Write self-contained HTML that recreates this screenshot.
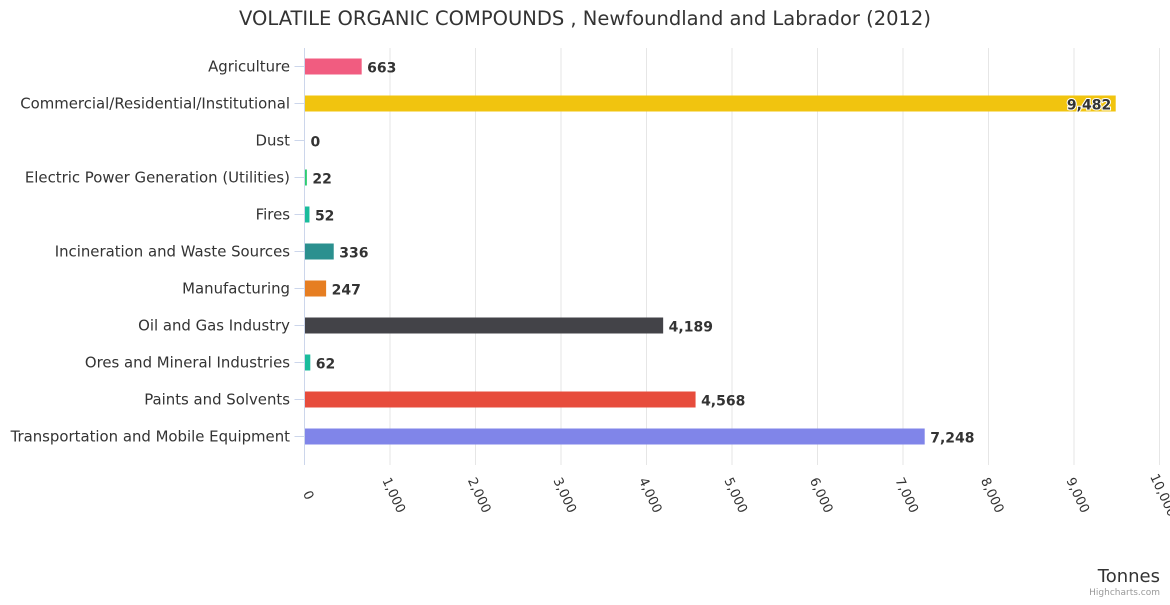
<!DOCTYPE html>
<html><head><meta charset="utf-8"><style>
body{margin:0;background:#fff}
svg text{font-family:"DejaVu Sans","Liberation Sans",sans-serif}
</style></head><body>
<svg width="1170" height="600" xmlns="http://www.w3.org/2000/svg">
<text x="585" y="25" text-anchor="middle" font-size="19.5" fill="#333">VOLATILE ORGANIC COMPOUNDS , Newfoundland and Labrador (2012)</text>
<g id="grid"></g>
<g id="bars"></g>
<g id="xlabels"></g>
<text x="1160" y="582" text-anchor="end" font-size="18" fill="#333">Tonnes</text>
<text x="1160" y="595" text-anchor="end" font-size="9" fill="#999">Highcharts.com</text>
</svg>
<script>
const categories=["Agriculture","Commercial/Residential/Institutional","Dust","Electric Power Generation (Utilities)","Fires","Incineration and Waste Sources","Manufacturing","Oil and Gas Industry","Ores and Mineral Industries","Paints and Solvents","Transportation and Mobile Equipment"];
const values=[663,9482,0,22,52,336,247,4189,62,4568,7248];
const colors=["#f15c80","#f1c40f","#2ecc71","#2ecc71","#1abc9c","#2b908f","#e67e22","#434348","#1abc9c","#e74c3c","#8085e9"];
const ticks=[0,1000,2000,3000,4000,5000,6000,7000,8000,9000,10000];
const NS="http://www.w3.org/2000/svg";
const x0=304.5,x1=1159.5,plotTop=48,plotBot=455,maxV=10000;
const xs=v=>x0+(v/maxV)*(x1-x0);
const rowH=(plotBot-plotTop)/categories.length;
const yc=i=>plotTop+rowH*(i+0.5);
const fmt=v=>v.toLocaleString("en-US");
function mk(tag,attrs,parent){const e=document.createElementNS(NS,tag);for(const k in attrs)e.setAttribute(k,attrs[k]);parent.appendChild(e);return e;}
const grid=document.getElementById("grid"),bars=document.getElementById("bars"),xl=document.getElementById("xlabels");
ticks.forEach(t=>{
  const g=mk("line",{x1:xs(t),x2:xs(t),y1:plotTop,y2:plotBot+10,stroke:t===0?"#ccd6eb":"#e6e6e6","stroke-width":1},grid);
  
  
  const tx=mk("text",{transform:`translate(${xs(t)},497) rotate(65)`,"text-anchor":"middle","font-size":13,fill:"#333"},xl);
  tx.textContent=fmt(t);
  
  
});
categories.forEach((c,i)=>{
  const y=yc(i);
  const tk=mk("line",{x1:x0-10,x2:x0,y1:y,y2:y,stroke:"#ccd6eb"},grid);
  
  
  const lab=mk("text",{x:290,y:y+5,"text-anchor":"end","font-size":14.9,fill:"#333"},bars);
  lab.textContent=c;
  
  
  const w=xs(values[i])-x0;
  const r=mk("rect",{x:x0+0.5,y:y-8,width:Math.max(w,0),height:16,fill:colors[i]},bars);
  
  
  const inside=values[i]>9000;
  const vl=mk("text",{x:inside?xs(values[i])-4:xs(values[i])+6,y:y+6,"text-anchor":inside?"end":"start","font-size":14,"font-weight":"bold",fill:"#333",stroke:"#fff","stroke-width":inside?2:0,"paint-order":"stroke"},bars);
  vl.textContent=fmt(values[i]);
  
  
});
</script>
</body></html>
